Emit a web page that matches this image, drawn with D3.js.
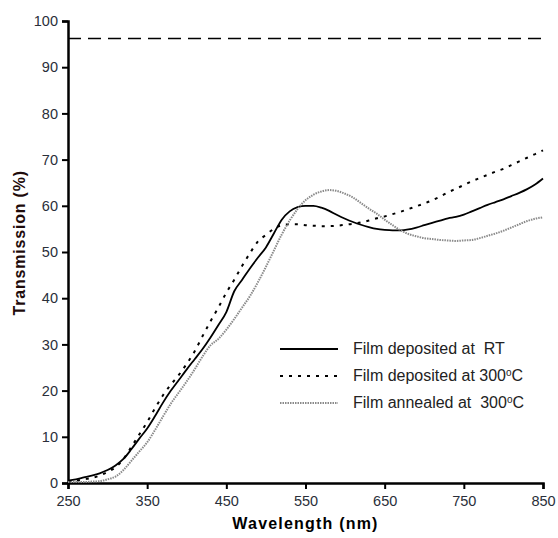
<!DOCTYPE html>
<html>
<head>
<meta charset="utf-8">
<script src="https://cdn.jsdelivr.net/npm/d3@7"></script>
<style>
  body { margin: 0; background: #fff; }
  text { font-family: "Liberation Sans", Arial, sans-serif; }
</style>
</head>
<body>
<svg id="chart" width="558" height="538"></svg>
<script>
// wavelength grid (nm), 10 nm steps
const wavelengths = d3.range(250, 851, 10);

const filmRT = [0.5, 0.8, 1.2, 1.6, 2.1, 2.8, 3.8, 5.2, 7.3, 9.6, 11.8, 14.5, 17.4, 20.0, 22.3, 24.6,
  26.8, 29.0, 31.5, 34.2, 37.0, 41.5, 44.0, 46.5, 48.8, 51.0, 54.0, 57.0, 58.8, 59.7, 60.0, 60.0,
  59.6, 58.9, 58.0, 57.2, 56.5, 55.9, 55.4, 55.0, 54.8, 54.7, 54.7, 54.9, 55.3, 55.8, 56.3, 56.8,
  57.3, 57.6, 58.1, 58.8, 59.5, 60.2, 60.8, 61.4, 62.1, 62.8, 63.6, 64.6, 65.9];

const film300 = [0.3, 0.5, 0.8, 1.1, 1.6, 2.4, 3.4, 5.2, 7.8, 10.5, 13.2, 16.2, 19.0, 21.3, 23.4, 25.8,
  28.5, 31.8, 35.0, 38.0, 41.2, 44.0, 47.0, 49.8, 52.3, 53.7, 55.0, 55.8, 56.0, 56.0, 55.8, 55.7,
  55.6, 55.6, 55.7, 55.9, 56.1, 56.4, 56.8, 57.3, 57.7, 58.2, 58.7, 59.3, 59.9, 60.5, 61.2, 62.0,
  62.9, 63.7, 64.5, 65.3, 66.0, 66.7, 67.4, 68.0, 68.8, 69.6, 70.4, 71.2, 72.0];

const filmAnnealed = [0.2, 0.2, 0.2, 0.3, 0.4, 0.8, 1.4, 2.8, 4.8, 6.8, 8.8, 11.5, 14.4, 17.2, 19.6, 22.0,
  24.6, 27.4, 29.8, 31.2, 33.2, 35.5, 38.0, 40.5, 43.5, 46.8, 50.3, 53.8, 56.8, 59.3, 61.2, 62.4,
  63.1, 63.4, 63.2, 62.6, 61.8, 60.6, 59.4, 58.3, 57.0, 55.8, 54.7, 53.9, 53.4, 53.0, 52.8, 52.6,
  52.5, 52.4, 52.5, 52.6, 53.0, 53.5, 54.0, 54.6, 55.3, 56.0, 56.7, 57.2, 57.5];

const substrateLevel = 96.2;

const xTicks = [250, 350, 450, 550, 650, 750, 850];
const yTicks = [0, 10, 20, 30, 40, 50, 60, 70, 80, 90, 100];

const legendLabels = ["Film deposited at  RT", "Film deposited at 300", "Film annealed at  300"];

const svg = d3.select("#chart");
const margin = {left: 68, right: 15, top: 21, bottom: 55};
const W = 558, H = 538;

const x = d3.scaleLinear().domain([250, 850]).range([margin.left, W - margin.right]);
const y = d3.scaleLinear().domain([0, 100]).range([H - margin.bottom, margin.top]);

// axes
const xAxis = svg.append("g")
  .attr("transform", `translate(0,${y(0)})`)
  .call(d3.axisBottom(x).tickValues(xTicks).tickSize(6).tickPadding(7).tickFormat(d3.format("d")));
const yAxis = svg.append("g")
  .attr("transform", `translate(${x(250)},0)`)
  .call(d3.axisLeft(y).tickValues(yTicks).tickSize(6).tickPadding(4).tickFormat(d3.format("d")));

[xAxis, yAxis].forEach(a => {
  a.select(".domain").attr("stroke", "#000").attr("stroke-width", 2.5)
  a.selectAll(".tick line").attr("stroke", "#000").attr("stroke-width", 2);
  a.selectAll(".tick text").attr("fill", "#2a2f3a").style("font-size", "14.5px")
    .style("font-family", "'Liberation Sans', Arial, sans-serif");
});

svg.append("text")
  .attr("x", (x(250) + x(850)) / 2)
  .attr("y", 529)
  .attr("text-anchor", "middle")
  .style("font-size", "16px")
  .style("font-weight", "bold")
  .style("letter-spacing", "1.2px")
  .attr("fill", "#000")
  .text("Wavelength (nm)");

svg.append("text")
  .attr("transform", `translate(25,${y(52)}) rotate(-90)`)
  .attr("text-anchor", "middle")
  .style("font-size", "16px")
  .style("font-weight", "bold")
  .style("letter-spacing", "0.8px")
  .attr("fill", "#1e0b0b")
  .text("Transmission (%)");

// substrate reference line
svg.append("line")
  .attr("x1", x(250)).attr("x2", x(850))
  .attr("y1", y(substrateLevel)).attr("y2", y(substrateLevel))
  .attr("stroke", "#000").attr("stroke-width", 1.5)
  .attr("stroke-dasharray", "13,7");

const line = d3.line()
  .x((d, i) => x(wavelengths[i]))
  .y(d => y(d))
  .curve(d3.curveMonotoneX);

const styles = [
  {data: filmRT, stroke: "#000", width: 1.8, dash: null},
  {data: film300, stroke: "#000", width: 2, dash: "3,6"},
  {data: filmAnnealed, stroke: "#8a8a8a", width: 2, dash: "1.5,1"}
];

svg.append("g").selectAll("path")
  .data(styles)
  .join("path")
  .attr("d", d => line(d.data))
  .attr("fill", "none")
  .attr("stroke", d => d.stroke)
  .attr("stroke-width", d => d.width)
  .attr("stroke-dasharray", d => d.dash);

// legend
const legend = svg.append("g").attr("transform", "translate(280,349)");
const items = legend.selectAll("g")
  .data(styles)
  .join("g")
  .attr("transform", (d, i) => `translate(0,${i * 27})`);

items.append("line")
  .attr("x1", 0).attr("x2", 58)
  .attr("stroke", d => d.stroke)
  .attr("stroke-width", d => d.width)
  .attr("stroke-dasharray", d => d.dash);

const lt = items.append("text")
  .attr("x", 73)
  .attr("y", 5)
  .attr("fill", "#222")
  .style("font-size", "16px")
  .style("white-space", "pre")
  .attr("xml:space", "preserve");

lt.append("tspan").text((d, i) => legendLabels[i]);
lt.filter((d, i) => i > 0).append("tspan")
  .attr("dy", -5).style("font-size", "10px").text("o");
lt.filter((d, i) => i > 0).append("tspan")
  .attr("dy", 5).text("C");
</script>
</body>
</html>
